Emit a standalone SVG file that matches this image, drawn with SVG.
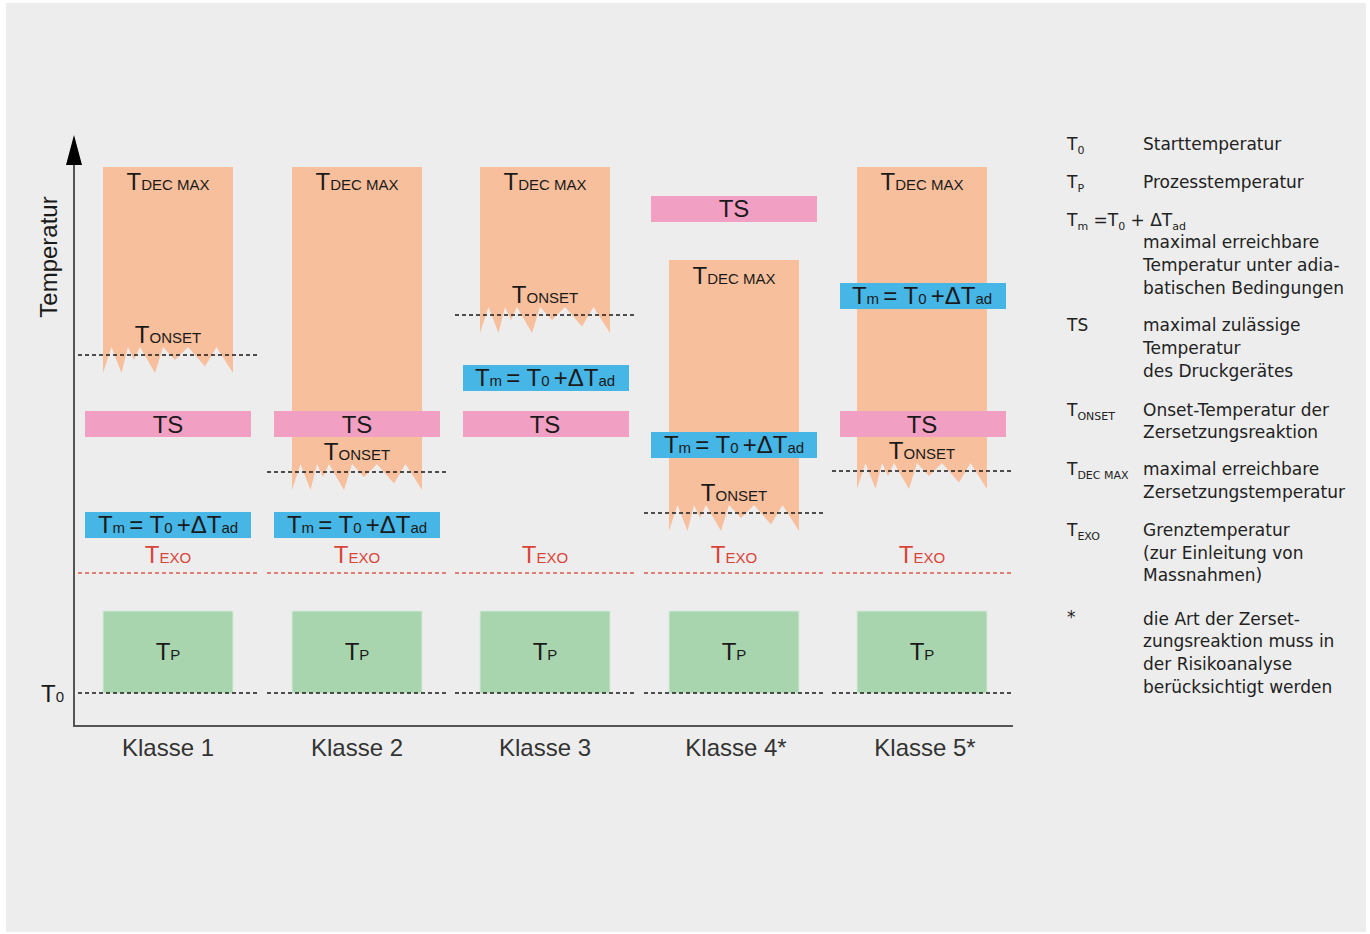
<svg xmlns="http://www.w3.org/2000/svg" xmlns:xlink="http://www.w3.org/1999/xlink" width="1370" height="934" viewBox="0 0 1370 934">
<defs>
<style>
.bg{fill:#ededed}
.dec{fill:#f8bf9c}
.ts{fill:#f29fc4}
.tm{fill:#46b6e6}
.tp{fill:#a8d4ae;stroke:#d6ebd9;stroke-width:1}
.lbl{font-family:"Liberation Sans",Arial,sans-serif;fill:#1a1a1a;text-anchor:middle}
.big{font-size:24px}
.sm{font-size:15px}
.exo{fill:#d9443a}
.dash{stroke:#1a1a1a;stroke-width:1.4;stroke-dasharray:4 3;fill:none}
.rdash{stroke:#e0594d;stroke-width:1.3;stroke-dasharray:4 3;fill:none}
.axis{stroke:#555;stroke-width:2;fill:none}
.kl{font-family:"Liberation Sans",Arial,sans-serif;font-size:24px;fill:#333;text-anchor:middle}
.lg{font-family:"DejaVu Sans","Liberation Sans",sans-serif;font-size:17px;fill:#222}
.sub{font-size:11px}
</style>
<path id="teeth" d="M0,-0.5 H130 V26 L113.5,0 L102,19.5 L85,0 L72,13 L60,0 L52,26 L37,0 L31,13 L25,0 L18.5,26 L8.5,0 L0,26 Z"/>
</defs>
<rect x="0" y="0" width="1370" height="934" fill="#ffffff"/>
<rect class="bg" x="6" y="3" width="1360" height="929"/>

<g id="axes">
<line class="axis" x1="74" y1="160" x2="74" y2="727"/>
<line class="axis" x1="73" y1="726" x2="1013" y2="726"/>
<polygon points="74,135 66,165 82,165" fill="#000"/>
<text class="lbl big" transform="translate(57,257) rotate(-90)">Temperatur</text>
<text class="lbl" x="41" y="702" style="text-anchor:start"><tspan class="big">T</tspan><tspan class="sm">0</tspan></text>
</g>

<g id="klasse1">
<rect class="dec" x="103" y="167" width="130" height="180"/>
<use xlink:href="#teeth" x="103" y="347" class="dec"/>
<text class="lbl" x="168" y="190"><tspan class="big">T</tspan><tspan class="sm">DEC MAX</tspan></text>
<text class="lbl" x="168" y="343"><tspan class="big">T</tspan><tspan class="sm">ONSET</tspan></text>
<rect class="ts" x="85" y="411" width="166" height="26"/>
<text class="lbl big" x="168" y="433">TS</text>
<rect class="tm" x="85" y="512" width="166" height="26"/>
<text class="lbl" x="168" y="532.5"><tspan class="big">T</tspan><tspan class="sm">m </tspan><tspan class="big">= T</tspan><tspan class="sm">0 </tspan><tspan class="big">+ΔT</tspan><tspan class="sm">ad</tspan></text>
<text class="lbl exo" x="168" y="563"><tspan class="big">T</tspan><tspan class="sm">EXO</tspan></text>
<rect class="tp" x="103" y="611" width="130" height="82"/>
<text class="lbl" x="168" y="660"><tspan class="big">T</tspan><tspan class="sm">P</tspan></text>
<text class="kl" x="168" y="756">Klasse 1</text>
</g>

<g id="klasse2">
<rect class="dec" x="292" y="167" width="130" height="297"/>
<use xlink:href="#teeth" x="292" y="464" class="dec"/>
<text class="lbl" x="357" y="190"><tspan class="big">T</tspan><tspan class="sm">DEC MAX</tspan></text>
<rect class="ts" x="274" y="411" width="166" height="26"/>
<text class="lbl big" x="357" y="433">TS</text>
<text class="lbl" x="357" y="460"><tspan class="big">T</tspan><tspan class="sm">ONSET</tspan></text>
<rect class="tm" x="274" y="512" width="166" height="26"/>
<text class="lbl" x="357" y="532.5"><tspan class="big">T</tspan><tspan class="sm">m </tspan><tspan class="big">= T</tspan><tspan class="sm">0 </tspan><tspan class="big">+ΔT</tspan><tspan class="sm">ad</tspan></text>
<text class="lbl exo" x="357" y="563"><tspan class="big">T</tspan><tspan class="sm">EXO</tspan></text>
<rect class="tp" x="292" y="611" width="130" height="82"/>
<text class="lbl" x="357" y="660"><tspan class="big">T</tspan><tspan class="sm">P</tspan></text>
<text class="kl" x="357" y="756">Klasse 2</text>
</g>

<g id="klasse3">
<rect class="dec" x="480" y="167" width="130" height="140"/>
<use xlink:href="#teeth" x="480" y="307" class="dec"/>
<text class="lbl" x="545" y="190"><tspan class="big">T</tspan><tspan class="sm">DEC MAX</tspan></text>
<text class="lbl" x="545" y="303"><tspan class="big">T</tspan><tspan class="sm">ONSET</tspan></text>
<rect class="tm" x="463" y="365" width="166" height="26"/>
<text class="lbl" x="545" y="385.5"><tspan class="big">T</tspan><tspan class="sm">m </tspan><tspan class="big">= T</tspan><tspan class="sm">0 </tspan><tspan class="big">+ΔT</tspan><tspan class="sm">ad</tspan></text>
<rect class="ts" x="463" y="411" width="166" height="26"/>
<text class="lbl big" x="545" y="433">TS</text>
<text class="lbl exo" x="545" y="563"><tspan class="big">T</tspan><tspan class="sm">EXO</tspan></text>
<rect class="tp" x="480" y="611" width="130" height="82"/>
<text class="lbl" x="545" y="660"><tspan class="big">T</tspan><tspan class="sm">P</tspan></text>
<text class="kl" x="545" y="756">Klasse 3</text>
</g>

<g id="klasse4">
<rect class="ts" x="651" y="196" width="166" height="26"/>
<text class="lbl big" x="734" y="217">TS</text>
<rect class="dec" x="669" y="260" width="130" height="245"/>
<use xlink:href="#teeth" x="669" y="505" class="dec"/>
<text class="lbl" x="734" y="284"><tspan class="big">T</tspan><tspan class="sm">DEC MAX</tspan></text>
<rect class="tm" x="651" y="432" width="166" height="26"/>
<text class="lbl" x="734" y="452.5"><tspan class="big">T</tspan><tspan class="sm">m </tspan><tspan class="big">= T</tspan><tspan class="sm">0 </tspan><tspan class="big">+ΔT</tspan><tspan class="sm">ad</tspan></text>
<text class="lbl" x="734" y="501"><tspan class="big">T</tspan><tspan class="sm">ONSET</tspan></text>
<text class="lbl exo" x="734" y="563"><tspan class="big">T</tspan><tspan class="sm">EXO</tspan></text>
<rect class="tp" x="669" y="611" width="130" height="82"/>
<text class="lbl" x="734" y="660"><tspan class="big">T</tspan><tspan class="sm">P</tspan></text>
<text class="kl" x="736" y="756">Klasse 4*</text>
</g>

<g id="klasse5">
<rect class="dec" x="857" y="167" width="130" height="296"/>
<use xlink:href="#teeth" x="857" y="463" class="dec"/>
<text class="lbl" x="922" y="190"><tspan class="big">T</tspan><tspan class="sm">DEC MAX</tspan></text>
<rect class="tm" x="840" y="283" width="166" height="26"/>
<text class="lbl" x="922" y="303.5"><tspan class="big">T</tspan><tspan class="sm">m </tspan><tspan class="big">= T</tspan><tspan class="sm">0 </tspan><tspan class="big">+ΔT</tspan><tspan class="sm">ad</tspan></text>
<rect class="ts" x="840" y="411" width="166" height="26"/>
<text class="lbl big" x="922" y="433">TS</text>
<text class="lbl" x="922" y="459"><tspan class="big">T</tspan><tspan class="sm">ONSET</tspan></text>
<text class="lbl exo" x="922" y="563"><tspan class="big">T</tspan><tspan class="sm">EXO</tspan></text>
<rect class="tp" x="857" y="611" width="130" height="82"/>
<text class="lbl" x="922" y="660"><tspan class="big">T</tspan><tspan class="sm">P</tspan></text>
<text class="kl" x="925" y="756">Klasse 5*</text>
</g>

<g id="connectors">
<line class="dash" x1="78" y1="355" x2="258" y2="355"/>
<line class="dash" x1="267" y1="472" x2="447" y2="472"/>
<line class="dash" x1="455" y1="315" x2="635" y2="315"/>
<line class="dash" x1="644" y1="513" x2="824" y2="513"/>
<line class="dash" x1="832" y1="471" x2="1012" y2="471"/>
<line class="rdash" x1="78" y1="573" x2="258" y2="573"/>
<line class="rdash" x1="267" y1="573" x2="447" y2="573"/>
<line class="rdash" x1="455" y1="573" x2="635" y2="573"/>
<line class="rdash" x1="644" y1="573" x2="824" y2="573"/>
<line class="rdash" x1="832" y1="573" x2="1012" y2="573"/>
<line class="dash" x1="78" y1="693" x2="258" y2="693"/>
<line class="dash" x1="267" y1="693" x2="447" y2="693"/>
<line class="dash" x1="455" y1="693" x2="635" y2="693"/>
<line class="dash" x1="644" y1="693" x2="824" y2="693"/>
<line class="dash" x1="832" y1="693" x2="1012" y2="693"/>
</g>

<g id="legend">
<text class="lg" x="1067" y="150">T<tspan class="sub" dy="4">0</tspan></text>
<text class="lg" x="1143" y="150">Starttemperatur</text>
<text class="lg" x="1067" y="188">T<tspan class="sub" dy="4">P</tspan></text>
<text class="lg" x="1143" y="188">Prozesstemperatur</text>
<text class="lg" x="1067" y="226">T<tspan class="sub" dy="4">m</tspan><tspan dy="-4"> =T</tspan><tspan class="sub" dy="4">0</tspan><tspan dy="-4"> + ΔT</tspan><tspan class="sub" dy="4">ad</tspan></text>
<text class="lg" x="1143" y="248">maximal erreichbare</text>
<text class="lg" x="1143" y="271">Temperatur unter adia-</text>
<text class="lg" x="1143" y="294">batischen Bedingungen</text>
<text class="lg" x="1067" y="331">TS</text>
<text class="lg" x="1143" y="331">maximal zulässige</text>
<text class="lg" x="1143" y="354">Temperatur</text>
<text class="lg" x="1143" y="377">des Druckgerätes</text>
<text class="lg" x="1067" y="416">T<tspan class="sub" dy="4">ONSET</tspan></text>
<text class="lg" x="1143" y="416">Onset-Temperatur der</text>
<text class="lg" x="1143" y="438">Zersetzungsreaktion</text>
<text class="lg" x="1067" y="475">T<tspan class="sub" dy="4">DEC MAX</tspan></text>
<text class="lg" x="1143" y="475">maximal erreichbare</text>
<text class="lg" x="1143" y="498">Zersetzungstemperatur</text>
<text class="lg" x="1067" y="536">T<tspan class="sub" dy="4">EXO</tspan></text>
<text class="lg" x="1143" y="536">Grenztemperatur</text>
<text class="lg" x="1143" y="559">(zur Einleitung von</text>
<text class="lg" x="1143" y="581">Massnahmen)</text>
<text class="lg" x="1067" y="623">*</text>
<text class="lg" x="1143" y="625">die Art der Zerset-</text>
<text class="lg" x="1143" y="647">zungsreaktion muss in</text>
<text class="lg" x="1143" y="670">der Risikoanalyse</text>
<text class="lg" x="1143" y="693">berücksichtigt werden</text>
</g>
</svg>
